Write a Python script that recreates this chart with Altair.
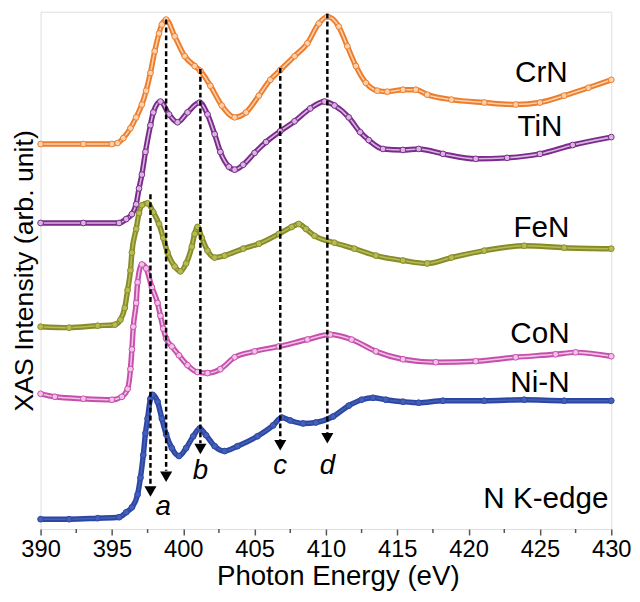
import altair as alt
import pandas as pd

# ---------------- data (intensity in arb. units) ----------------
crn_E = [390.0, 393.0, 395.0, 395.4, 395.8, 396.3, 396.7, 397.1, 397.4, 397.7, 398.0, 398.3, 398.5, 398.8,
         399.4, 400.1, 400.8, 401.2, 401.9, 402.7, 403.6, 404.4, 405.3, 406.1, 406.8, 407.8, 408.7, 409.5,
         410.1, 410.9, 411.5, 412.1, 412.8, 413.6, 414.3, 415.4, 416.3, 417.1, 418.8, 421.1, 423.3, 425.0,
         426.7, 428.4, 430.0]
crn_I = [390, 390, 390, 391, 396, 406, 417, 430, 444, 462, 484, 502, 511, 516,
         499, 479, 469, 464, 449, 429, 417, 422, 439, 455, 465, 479, 492, 512,
         519, 509, 489, 469, 452, 444, 443, 445, 445, 440, 435, 432, 430, 432,
         439, 447, 455]

tin_E = [390.0, 393.0, 395.5, 396.0, 396.4, 396.7, 396.9, 397.1, 397.35, 397.7, 397.9, 398.4, 399.0, 399.6,
         400.3, 401.15, 401.7, 402.2, 402.6, 403.2, 403.6, 404.2, 405.0, 405.8, 406.8, 407.8, 408.9, 409.9,
         410.6, 411.6, 412.4, 413.0, 414.0, 415.4, 416.5, 418.2, 420.5, 422.7, 425.0, 427.3, 430.0]
tin_I = [310, 310, 310, 314, 319, 329, 345, 359, 382, 409, 422, 433, 420, 412,
         422, 432, 420, 400, 382, 367, 364, 369, 381, 392, 403, 413, 426, 433,
         429, 417, 402, 394, 385, 384, 385, 380, 375, 376, 380, 389, 397]

fen_E = [390.0, 392.0, 394.0, 395.2, 395.6, 395.9, 396.1, 396.3, 396.4, 396.7, 396.9, 397.1, 397.5, 397.9,
         398.3, 398.6, 398.9, 399.4, 399.8, 400.2, 400.6, 400.8, 401.0, 401.3, 401.7, 402.2, 402.9, 404.2,
         405.3, 406.7, 407.6, 408.1, 408.6, 409.2, 410.6, 412.0, 413.5, 415.4, 417.1, 418.8, 421.1, 423.9,
         426.7, 430.0]
fen_I = [205, 204, 206, 207, 212, 224, 242, 262, 280, 304, 320, 328, 330, 321,
         309, 295, 280, 266, 261, 269, 286, 299, 306, 295, 282, 275, 277, 284,
         289, 299, 306, 309, 304, 297, 290, 284, 277, 272, 269, 275, 282, 287,
         285, 284]

con_E = [390.0, 391.0, 393.0, 395.0, 395.7, 396.1, 396.3, 396.4, 396.5, 396.7, 396.8, 397.1, 397.4, 397.8,
         398.2, 398.4, 398.6, 398.8, 399.2, 399.7, 400.3, 401.0, 401.7, 402.6, 403.6, 405.0, 406.7, 408.7,
         410.3, 411.8, 413.5, 415.4, 417.7, 420.5, 423.3, 426.1, 427.5, 430.0]
con_I = [137, 134, 132, 131, 134, 142, 162, 182, 205, 229, 250, 268, 264, 245,
         229, 216, 203, 193, 185, 176, 166, 159, 158, 162, 174, 180, 185, 192,
         197, 192, 180, 172, 169, 170, 174, 177, 179, 175]

nin_E = [390.0, 392.0, 394.0, 395.5, 396.0, 396.4, 396.8, 397.0, 397.2, 397.35, 397.5, 397.7, 397.85, 398.2,
         398.5, 398.8, 399.2, 399.7, 400.2, 400.7, 401.15, 401.6, 402.2, 402.9, 403.8, 405.2, 406.3, 406.9,
         407.5, 408.4, 409.3, 410.5, 411.6, 412.5, 413.3, 414.2, 415.4, 416.5, 418.2, 421.1, 423.9, 426.7,
         430.0]
nin_I = [10, 10, 11, 12, 17, 22, 35, 52, 75, 97, 112, 132, 136, 129,
         112, 96, 82, 74, 82, 94, 102, 95, 84, 79, 84, 94, 105, 113,
         110, 107, 108, 114, 125, 131, 133, 131, 129, 128, 130, 130, 131, 130,
         130]

series_names = ["CrN", "TiN", "FeN", "CoN", "Ni-N"]
dark_colors = ["#EE7D2B", "#7A2B8B", "#868C2C", "#C64EAC", "#2C46A4"]
fill_colors = ["#FAD2B0", "#D9B6E0", "#B8BC50", "#F0C4E6", "#4560B8"]

# annotation values
peak_E = [397.7, 398.8, 401.2, 406.8, 410.1]
peak_top = [339, 516, 466, 467, 522]
peak_bottom = [44, 59, 87, 90, 97]
arrow_I = [38, 53, 81, 85, 92]
letter_text = ["a", "b", "c", "d"]
letter_E = [398.6, 401.2, 406.8, 410.1]
letter_I = [22, 59, 64, 64]
label_text = ["CrN", "TiN", "FeN", "CoN", "Ni-N"]
label_E = [425.1, 425.0, 425.1, 425.0, 425.0]
label_I = [462, 407, 305, 197, 148]
edge_text = ["N K-edge"]
edge_E = [429.8]
edge_I = [30]
minor_E = [392.5, 397.5, 402.5, 407.5, 412.5, 417.5, 422.5, 427.5]
major_E = [390, 395, 400, 405, 410, 415, 420, 425, 430]

# ---------------- tables ----------------
frames = []
for name, E, I in zip(series_names,
                      [crn_E, tin_E, fen_E, con_E, nin_E],
                      [crn_I, tin_I, fen_I, con_I, nin_I]):
    frames.append(pd.DataFrame({"E": E, "I": I, "series": name}))
spec = pd.concat(frames, ignore_index=True)

peaks = pd.DataFrame({"E": peak_E, "top": peak_top, "bottom": peak_bottom, "arrow": arrow_I})
letters = pd.DataFrame({"E": letter_E, "I": letter_I, "t": letter_text})
labels = pd.DataFrame({"E": label_E, "I": label_I, "t": label_text})
edge = pd.DataFrame({"E": edge_E, "I": edge_I, "t": edge_text})
minor = pd.DataFrame({"E": minor_E})

FONT = "Liberation Sans"
W, H = 578, 524

xscale = alt.Scale(domain=[390, 430], nice=False, zero=False)
yscale = alt.Scale(domain=[0, 524], nice=False, zero=False)

x_enc = alt.X("E:Q", scale=xscale,
              axis=alt.Axis(values=major_E, title="Photon Energy (eV)", grid=False, domain=False,
                            tickSize=6, tickWidth=1.5, tickColor="#555555", labelFlush=False,
                            labelFontSize=24, labelColor="black", labelPadding=3, labelFont=FONT,
                            titleFontSize=28, titleFontWeight="normal", titleColor="black",
                            titlePadding=1, titleX=301, titleFont=FONT, format="d"))
y_enc = alt.Y("I:Q", scale=yscale,
              axis=alt.Axis(title="XAS Intensity (arb. unit)", labels=False, ticks=False, grid=False,
                            domain=False, titleFontSize=27, titleFontWeight="normal", titleColor="black",
                            titlePadding=2, titleFont=FONT))

base = alt.Chart(spec)
band = base.mark_line(strokeWidth=5.5, interpolate="monotone").encode(
    x=x_enc, y=y_enc,
    stroke=alt.Stroke("series:N", scale=alt.Scale(domain=series_names, range=dark_colors), legend=None),
    detail="series:N")
inner = base.mark_line(strokeWidth=1.6, interpolate="monotone").encode(
    x="E:Q", y="I:Q",
    color=alt.Color("series:N", scale=alt.Scale(domain=series_names, range=fill_colors), legend=None),
    detail="series:N")
dots = base.mark_circle(size=34, strokeWidth=1, opacity=1).encode(
    x="E:Q", y="I:Q",
    fill=alt.Fill("series:N", scale=alt.Scale(domain=series_names, range=fill_colors), legend=None),
    stroke=alt.Stroke("series:N", scale=alt.Scale(domain=series_names, range=dark_colors), legend=None))

dashes = alt.Chart(peaks).mark_rule(color="black", strokeWidth=2.5, strokeDash=[5, 3]).encode(
    x="E:Q", y="top:Q", y2="bottom:Q")
arrows = alt.Chart(peaks).mark_point(shape="triangle-down", filled=True, size=150, color="black",
                                     opacity=1).encode(x="E:Q", y="arrow:Q")
letter_marks = alt.Chart(letters).mark_text(font=FONT, fontSize=28, fontStyle="italic", color="black",
                                            align="center", baseline="middle").encode(
    x="E:Q", y="I:Q", text="t:N")
label_marks = alt.Chart(labels).mark_text(font=FONT, fontSize=30, color="black",
                                          align="center", baseline="middle").encode(
    x="E:Q", y="I:Q", text="t:N")
edge_mark = alt.Chart(edge).mark_text(font=FONT, fontSize=30, color="black",
                                      align="right", baseline="middle").encode(
    x="E:Q", y="I:Q", text="t:N")
minor_ticks = alt.Chart(minor).mark_rule(color="#555555", strokeWidth=1.5).encode(
    x="E:Q", y=alt.value(H), y2=alt.value(H + 4))

chart = alt.layer(band, inner, dots, dashes, arrows, letter_marks, label_marks, edge_mark,
                  minor_ticks).properties(
    width=W, height=H,
    autosize=alt.AutoSizeParams(type="none"),
    padding={"left": 33, "top": 0, "right": 21, "bottom": 62},
).configure_view(stroke="#555555", strokeWidth=1.5).configure(font=FONT, background="white")

chart.save("out.html", embed_options={"renderer": "svg", "actions": False})
